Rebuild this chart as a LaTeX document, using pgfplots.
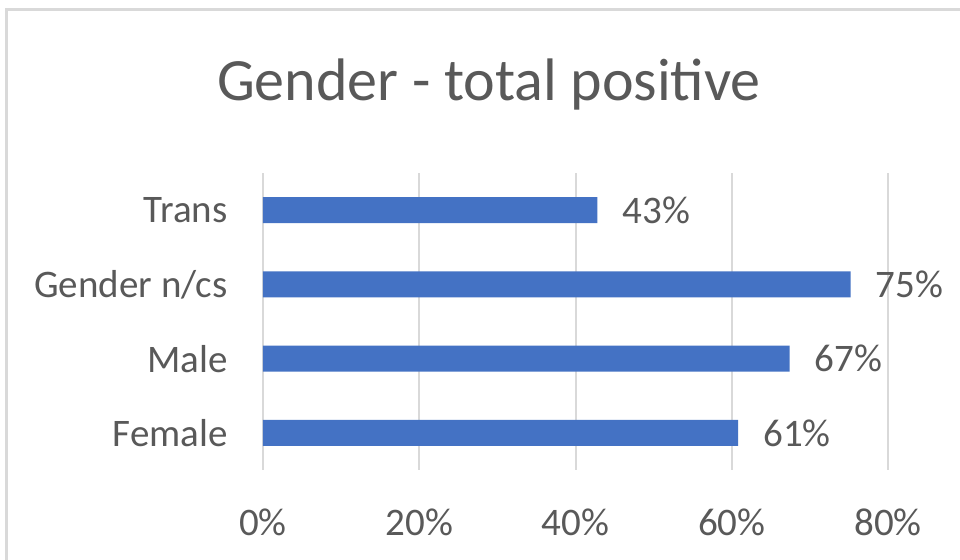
\documentclass[border=0pt]{standalone}
\usepackage{fontspec}
\setmainfont{Carlito}
\usepackage{pgfplots}
\pgfplotsset{compat=1.18}
\definecolor{barblue}{HTML}{4472C4}
\definecolor{txtgray}{HTML}{595959}
\definecolor{gridgray}{HTML}{D9D9D9}
\begin{document}
\begin{tikzpicture}
\useasboundingbox (0,0) rectangle (480pt,280pt);
\fill[white] (0,0) rectangle (480pt,280pt);
% chart frame, cut off at right and bottom as in the screenshot
\draw[gridgray, line width=1.5pt] (3pt,-10pt) -- (3pt,275pt) -- (490pt,275pt);
\node[txtgray, font=\fontsize{30}{34}\selectfont] at (244.5pt,237.5pt) {Gender - total positive};
\begin{axis}[
    at={(131.5pt,45pt)}, anchor=south west,
    scale only axis, width=312.5pt, height=148.5pt,
    xbar, bar width=13pt,
    xmin=0, xmax=80, ymin=-0.5, ymax=3.5,
    xtick={0,20,40,60,80},
    xticklabels={0\%,20\%,40\%,60\%,80\%},
    ytick={0,1,2,3},
    yticklabels={Female,Male,Gender n/cs,Trans},
    axis line style={draw=none},
    major tick length=0pt,
    xmajorgrids, grid style={gridgray, line width=1pt},
    ticklabel style={font=\fontsize{19.5}{22}\selectfont, text=txtgray, inner sep=0pt},
    xticklabel style={anchor=center, yshift=-26pt},
    yticklabel style={anchor=east, xshift=-17.5pt},
    /pgf/number format/assume math mode=true,
    point meta=x,
    nodes near coords={\pgfmathprintnumber[fixed,precision=0,assume math mode=true]{\pgfplotspointmeta}\%},
    nodes near coords style={anchor=west, inner sep=0pt, xshift=12.5pt, text=txtgray, font=\fontsize{19.5}{22}\selectfont},
]
\addplot[fill=barblue, draw=none] coordinates {
    (60.8,0) (67.4,1) (75.2,2) (42.8,3)
};
\end{axis}
\end{tikzpicture}
\end{document}
